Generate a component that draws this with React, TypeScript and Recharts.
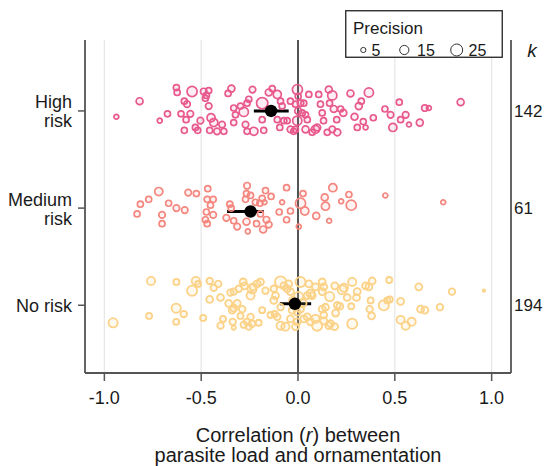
import React from 'react';
import { ScatterChart, Scatter, XAxis, YAxis, ZAxis, CartesianGrid, ReferenceLine, ErrorBar, Legend } from 'recharts';

// [correlation r, vertical jitter, precision]
const highRisk: [number, number, number][] = [
  [-0.938,-0.06,4],[-0.818,0.10,8],[-0.714,-0.10,4],[-0.674,-0.03,6],[-0.628,0.24,6],[-0.624,0.19,6],[-0.547,0.20,17],[-0.587,0.10,6],[-0.573,0.07,7],[-0.604,-0.03,6],[-0.556,-0.03,7],[-0.578,-0.09,6],[-0.587,-0.20,6],[-0.530,-0.17,6],[-0.518,-0.20,6],[-0.504,-0.10,7],[-0.487,0.20,7],[-0.461,0.21,6],[-0.473,0.16,6],[-0.478,0.13,6],[-0.461,0.05,7],[-0.449,-0.07,11],[-0.435,-0.12,11],[-0.456,-0.20,6],[-0.418,-0.21,7],[-0.392,-0.14,7],[-0.383,-0.21,6],[-0.361,0.18,6],[-0.344,0.23,8],[-0.332,0.03,6],[-0.323,-0.04,6],[-0.332,-0.12,6],[-0.280,-0.01,14],[-0.297,0.05,6],[-0.263,0.08,6],[-0.254,0.12,6],[-0.271,-0.14,7],[-0.263,-0.21,6],[-0.228,-0.21,11],[-0.235,0.22,7],[-0.185,0.08,21],[-0.185,-0.09,6],[-0.177,-0.20,6],[-0.151,0.19,8],[-0.133,0.23,6],[-0.107,0.17,11],[-0.090,0.10,6],[-0.082,0.05,6],[-0.107,-0.09,6],[-0.073,-0.10,6],[-0.094,-0.17,6],[-0.039,0.10,6],[-0.056,-0.10,6],[-0.039,-0.19,7],[-0.022,-0.21,6],[-0.003,0.22,17],[-0.004,-0.10,14],[0.001,0.15,6],[-0.013,0.07,6],[0.013,0.08,7],[0.001,0.00,8],[0.030,0.08,6],[0.022,-0.02,6],[0.039,-0.04,6],[0.048,-0.09,6],[0.056,0.17,6],[0.107,0.17,6],[0.116,0.07,6],[0.163,0.08,6],[0.125,-0.02,6],[0.132,-0.10,6],[0.185,0.02,8],[0.200,-0.09,6],[0.177,-0.19,7],[0.099,-0.17,8],[0.073,-0.22,6],[0.039,-0.19,8],[-0.013,-0.19,6],[0.159,0.22,8],[0.177,0.16,14],[0.271,0.18,8],[0.366,0.19,14],[0.327,0.10,6],[0.314,0.05,8],[0.220,0.02,6],[0.234,-0.02,8],[0.292,-0.06,8],[0.337,-0.11,6],[0.090,-0.19,11],[0.151,-0.22,6],[0.203,-0.22,8],[0.306,-0.17,6],[0.349,-0.17,4],[0.389,-0.07,6],[0.449,0.02,6],[0.478,-0.04,7],[0.530,-0.09,6],[0.556,-0.04,7],[0.573,-0.14,4],[0.490,-0.17,11],[0.523,0.09,6],[0.629,-0.12,8],[0.655,0.03,7],[0.676,0.03,4],[0.840,0.09,8]
];

const mediumRisk: [number, number, number][] = [
  [-0.831,-0.06,6],[-0.814,0.04,6],[-0.771,0.09,6],[-0.719,0.17,11],[-0.702,-0.07,7],[-0.702,-0.16,6],[-0.668,0.05,6],[-0.628,0.00,7],[-0.585,-0.02,7],[-0.567,0.16,7],[-0.525,0.15,6],[-0.466,0.20,6],[-0.469,0.09,6],[-0.438,0.09,6],[-0.452,0.03,6],[-0.473,-0.04,6],[-0.438,-0.07,7],[-0.478,-0.12,6],[-0.469,-0.16,6],[-0.352,0.04,6],[-0.345,0.00,6],[-0.370,-0.10,7],[-0.332,-0.13,6],[-0.314,-0.19,7],[-0.263,0.23,7],[-0.266,0.15,6],[-0.245,0.13,6],[-0.271,0.09,6],[-0.266,-0.14,8],[-0.259,-0.24,4],[-0.220,0.06,6],[-0.197,0.05,6],[-0.185,0.10,6],[-0.168,0.18,6],[-0.173,0.06,4],[-0.139,0.12,6],[-0.194,-0.06,6],[-0.214,-0.16,6],[-0.163,-0.12,7],[-0.151,-0.17,7],[-0.180,-0.22,8],[-0.082,0.06,4],[-0.059,0.21,6],[-0.097,-0.04,6],[-0.039,-0.03,6],[-0.059,-0.12,6],[0.026,0.15,6],[0.013,0.05,17],[0.035,-0.03,11],[0.004,-0.19,4],[0.094,-0.08,8],[0.138,0.11,8],[0.142,0.02,11],[0.161,-0.13,4],[0.180,0.21,11],[0.223,0.07,4],[0.263,0.14,6],[0.275,0.03,17],[0.451,0.13,4],[0.750,0.06,4]
];

const noRisk: [number, number, number][] = [
  [-0.955,-0.18,14],[-0.759,0.25,11],[-0.769,-0.11,6],[-0.628,0.24,6],[-0.629,-0.03,14],[-0.590,-0.09,7],[-0.629,-0.17,6],[-0.528,0.25,11],[-0.516,0.22,6],[-0.547,0.15,17],[-0.490,-0.13,6],[-0.456,0.25,7],[-0.435,0.18,7],[-0.412,0.22,7],[-0.456,0.06,8],[-0.400,0.08,8],[-0.387,-0.14,6],[-0.400,-0.21,7],[-0.349,0.13,7],[-0.332,0.14,7],[-0.306,0.17,7],[-0.283,0.24,8],[-0.276,0.20,8],[-0.358,0.02,8],[-0.332,-0.03,8],[-0.314,0.02,8],[-0.340,-0.05,8],[-0.288,-0.04,7],[-0.297,-0.11,6],[-0.337,-0.17,7],[-0.332,-0.23,3],[-0.280,-0.20,7],[-0.263,-0.17,7],[-0.245,-0.12,7],[-0.237,-0.19,7],[-0.254,-0.22,7],[-0.245,0.10,11],[-0.232,0.19,8],[-0.211,0.22,8],[-0.194,0.24,8],[-0.237,0.17,14],[-0.168,0.15,7],[-0.185,-0.05,6],[-0.203,-0.18,6],[-0.142,-0.10,6],[-0.121,-0.09,6],[-0.125,0.05,8],[-0.116,0.10,8],[-0.090,0.24,21],[-0.073,0.20,8],[-0.056,0.17,8],[-0.039,0.14,8],[-0.048,0.22,8],[-0.125,0.17,7],[-0.107,-0.12,7],[-0.090,-0.02,7],[-0.090,-0.21,11],[-0.065,-0.22,11],[-0.039,-0.14,8],[-0.030,-0.05,8],[-0.004,-0.07,8],[0.013,0.24,17],[0.056,0.22,8],[0.090,0.19,8],[0.125,0.24,8],[0.133,0.19,8],[0.065,0.12,11],[0.125,0.14,8],[0.164,0.09,14],[0.190,0.20,8],[0.228,0.16,14],[0.237,0.18,11],[0.280,0.24,11],[0.254,0.08,8],[0.302,0.08,8],[0.306,0.14,8],[0.349,0.20,8],[0.383,0.25,8],[0.366,0.19,8],[0.471,0.26,6],[0.375,0.05,6],[0.443,0.00,17],[0.461,0.05,6],[0.474,0.06,6],[0.530,0.04,8],[0.370,-0.04,7],[0.380,-0.11,8],[0.624,0.19,8],[0.633,-0.04,8],[0.655,-0.05,8],[0.733,-0.02,7],[0.795,0.14,7],[0.960,0.15,1],[0.530,-0.15,11],[0.556,-0.21,11],[0.587,-0.17,11],[0.280,-0.19,17],[0.189,-0.22,8],[0.159,-0.21,8],[0.133,-0.10,8],[0.142,-0.02,8],[0.125,-0.04,8],[0.194,-0.08,8],[0.203,0.00,8],[0.216,-0.01,8],[0.275,-0.01,6],[0.099,-0.21,17],[0.090,-0.14,11],[0.065,-0.17,8],[0.048,-0.12,8],[0.030,-0.14,8],[0.013,-0.04,8],[-0.004,-0.17,8],[-0.013,-0.22,8],[0.048,0.10,8],[0.073,0.10,8],[0.168,-0.19,8],[0.133,-0.16,8],[0.003,0.09,14],[-0.028,0.05,8],[0.023,0.02,11]
];

const categoryLabels = ['No risk', 'Medium risk', 'High risk'];
const categoryLines = [['No risk'], ['Medium', 'risk'], ['High', 'risk']];
const kCounts = ['194', '61', '142'];
const meanR = [-0.016, -0.245, -0.139];
const meanY = [1.015, 1.965, 3];
const ciLowDelta = [0.078, 0.121, 0.089];
const ciHighDelta = [0.084, 0.068, 0.091];
const xTicks = [-1, -0.5, 0, 0.5, 1];
const legendPrecision = [5, 15, 25];

const COLORS = { high: '#E8598D', medium: '#F4877F', no: '#FBD287' };
const FONT = '"Liberation Sans", Arial, Helvetica, sans-serif';
const Y_DOMAIN: [number, number] = [0.303, 3.73];
const X_DOMAIN: [number, number] = [-1.1, 1.1];

const toPoints = (arr: [number, number, number][], cat: number) =>
  arr.map(([x, j, p]) => ({ x, y: cat + j, p }));

const highData = toPoints(highRisk, 3);
const mediumData = toPoints(mediumRisk, 2);
const noData = toPoints(noRisk, 1);
const meanData = meanR.map((x, i) => ({ x, y: meanY[i], err: [ciLowDelta[i], ciHighDelta[i]] }));

const YTick = (props: any) => {
  const { x, y, payload } = props;
  const idx = Math.round(payload.value) - 1;
  const lines = categoryLines[idx] || [categoryLabels[idx]];
  if (lines.length === 1) {
    return (
      <text x={x} y={y + 6.5} textAnchor="end" fontSize={18} fill="#1a1a1a" fontFamily={FONT}>{lines[0]}</text>
    );
  }
  return (
    <text x={x} y={y - 2.5} textAnchor="end" fontSize={18} fill="#1a1a1a" fontFamily={FONT}>
      <tspan x={x}>{lines[0]}</tspan>
      <tspan x={x} dy={19}>{lines[1]}</tspan>
    </text>
  );
};

const XTitle = (props: any) => {
  const vb = props.viewBox || {};
  const cx = vb.x + vb.width / 2;
  return (
    <text x={cx} y={vb.y + 69} textAnchor="middle" fontSize={20} fill="#1a1a1a" fontFamily={FONT}>
      <tspan x={cx}>Correlation (<tspan fontStyle="italic">r</tspan>) between</tspan>
      <tspan x={cx} dy={20}>parasite load and ornamentation</tspan>
    </text>
  );
};

const LegendBox = () => {
  const cxs = [18.3, 59.3, 111.7];
  const txs = [26.5, 72, 123.5];
  const radii = [2.6, 4.6, 6.0];
  return (
    <svg width={158} height={48} style={{ display: 'block' }}>
      <rect x={0.75} y={0.75} width={156.5} height={46.5} fill="#fff" stroke="#222" strokeWidth={1.3} />
      <text x={8} y={24} fontSize={17} fill="#1a1a1a" fontFamily={FONT}>Precision</text>
      {legendPrecision.map((p, i) => (
        <g key={p}>
          <circle cx={cxs[i]} cy={40} r={radii[i]} fill="none" stroke="#333" strokeWidth={1} />
          <text x={txs[i]} y={45.5} fontSize={16} fill="#1a1a1a" fontFamily={FONT}>{p}</text>
        </g>
      ))}
    </svg>
  );
};

const MeanDot = (props: any) => <circle cx={props.cx} cy={props.cy} r={6.2} fill="#000" />;

export default function App() {
  return (
    <div style={{ position: 'absolute', left: 0, top: 0, fontFamily: FONT }}>
      <ScatterChart width={553} height={466} margin={{ top: 40, right: 0, bottom: 0, left: 0 }}>
        <CartesianGrid horizontal={false} stroke="#e6e6e6" strokeWidth={1.2} />
        <XAxis
          type="number" dataKey="x" domain={X_DOMAIN} allowDataOverflow ticks={xTicks}
          tickFormatter={(v: number) => v.toFixed(1)} height={93} tickSize={8} tickMargin={10}
          axisLine={{ stroke: '#555', strokeWidth: 1.8 }} tickLine={{ stroke: '#555', strokeWidth: 1.5 }}
          tick={{ fill: '#1a1a1a', fontSize: 18, fontFamily: FONT }}
          label={XTitle}
        />
        <XAxis
          xAxisId="top" orientation="top" type="number" domain={X_DOMAIN} allowDataOverflow height={0}
          tick={false} tickLine={false} axisLine={{ stroke: '#555', strokeWidth: 1.8 }}
        />
        <YAxis
          type="number" dataKey="y" domain={Y_DOMAIN} allowDataOverflow ticks={[1, 2, 3]} width={85}
          tickSize={7} tickMargin={6} axisLine={{ stroke: '#555', strokeWidth: 1.8 }}
          tickLine={{ stroke: '#555', strokeWidth: 1.5 }} tick={<YTick />}
        />
        <YAxis
          yAxisId="right" orientation="right" type="number" domain={Y_DOMAIN} allowDataOverflow ticks={[1, 2, 3]}
          width={42} tickLine={false} tickSize={0} tickMargin={3}
          tickFormatter={(v: number) => kCounts[Math.round(v) - 1]}
          axisLine={{ stroke: '#555', strokeWidth: 1.8 }}
          tick={{ fill: '#1a1a1a', fontSize: 17, fontFamily: FONT, textAnchor: 'start' }}
          label={{ value: 'k', position: 'insideTop', offset: 4, fontStyle: 'italic', fontSize: 19, fill: '#1a1a1a' }}
        />
        <ZAxis type="number" dataKey="p" domain={[0, 25]} range={[0, 118]} />
        <ReferenceLine x={0} stroke="#000" strokeWidth={1.3} />
        <Scatter data={noData} fill={COLORS.no} fillOpacity={0.14} stroke={COLORS.no} strokeWidth={1.8} isAnimationActive={false} />
        <Scatter data={mediumData} fill={COLORS.medium} fillOpacity={0.1} stroke={COLORS.medium} strokeWidth={1.7} isAnimationActive={false} />
        <Scatter data={highData} fill={COLORS.high} fillOpacity={0.1} stroke={COLORS.high} strokeWidth={1.7} isAnimationActive={false} />
        <Scatter data={meanData} fill="#000" shape={MeanDot} isAnimationActive={false}>
          <ErrorBar dataKey="err" direction="x" width={0} stroke="#000" strokeWidth={3} />
        </Scatter>
        <Legend
          layout="horizontal" verticalAlign="middle" align="center" content={LegendBox}
          wrapperStyle={{ position: 'absolute', left: 345, top: 10, width: 158, height: 48 }}
        />
      </ScatterChart>
    </div>
  );
}
